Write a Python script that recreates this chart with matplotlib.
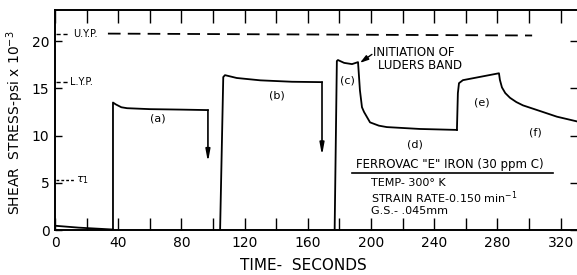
import matplotlib
matplotlib.use("Agg")
import matplotlib.pyplot as plt

# ---- data ----
# (a) loading segment
a_t = [36.7, 36.7, 38.5, 42.0, 45.6, 60.0, 80.0, 96.8]
a_s = [0.0, 13.5, 13.3, 13.0, 12.9, 12.8, 12.75, 12.7]
# (b)
b_t = [104.5, 106.5, 107.6, 115.0, 130.0, 150.0, 169.0]
b_s = [0.0, 16.2, 16.4, 16.1, 15.85, 15.7, 15.66]
# (c) and (d)
cd_t = [177.0, 178.4, 179.1, 183.0, 188.0, 191.8, 193.0, 194.3, 195.6, 199.4, 205.0, 210.0, 231.0, 254.4]
cd_s = [0.0, 17.9, 18.0, 17.7, 17.57, 17.78, 14.8, 13.0, 12.5, 11.4, 11.05, 10.9, 10.7, 10.6]
# (e) and (f)
ef_t = [254.4, 255.0, 255.7, 258.2, 281.0, 281.6, 282.9, 285.0, 288.0, 292.0, 296.2, 307.0, 317.7, 330.4]
ef_s = [10.6, 14.5, 15.55, 15.87, 16.6, 15.9, 15.1, 14.5, 14.0, 13.55, 13.2, 12.6, 12.0, 11.5]
# initial baseline drift
base_t = [0.0, 15.0, 36.7]
base_s = [0.45, 0.25, 0.05]
# unloading arrows (time, from stress, to stress)
arrow_t = [96.8, 169.0]
arrow_from = [12.7, 15.66]
arrow_to = [7.2, 7.9]
# reference levels
uyp_t = [33.5, 302.0]
uyp_s = [20.8, 20.6]
lyp_level = 15.66
tau1_level = 5.3

seg_labels = ["(a)", "(b)", "(c)", "(d)", "(e)", "(f)"]
seg_lab_t = [65.0, 140.5, 185.4, 227.8, 270.0, 303.8]
seg_lab_s = [11.85, 14.2, 15.8, 9.1, 13.5, 10.3]

x_major = list(range(0, 321, 40))
x_minor = list(range(20, 321, 40))
y_major = [0, 5, 10, 15, 20]

fig = plt.figure(figsize=(5.77, 2.75), dpi=100)
ax = fig.add_axes([55/577, 1-230/275, (577-55)/577, 220/275])
ax.set_xlim(0, 330.4)
ax.set_ylim(0, 23.3)

lw = 1.3
for t, s in [(a_t, a_s), (b_t, b_s), (cd_t, cd_s), (ef_t, ef_s), (base_t, base_s)]:
    ax.plot(t, s, color="k", lw=lw, solid_joinstyle="round")

for t, s0, s1 in zip(arrow_t, arrow_from, arrow_to):
    ax.annotate("", xy=(t, s1), xytext=(t, s0),
                arrowprops=dict(arrowstyle="-|>,head_length=0.7,head_width=0.13",
                                lw=1.2, color="k", shrinkA=0, shrinkB=0))

# U.Y.P. dashed line
ax.plot(uyp_t, uyp_s, color="k", lw=1.3, dashes=(7, 4))
ax.plot([0.5, 9], [uyp_s[0], uyp_s[0]], color="k", lw=1.0, dashes=(3, 2))
ax.text(11.4, uyp_s[0], "U.Y.P.", fontsize=7, va="center", ha="left")
ax.plot([0.5, 8], [lyp_level, lyp_level], color="k", lw=1.0, dashes=(3, 2))
ax.text(9.5, lyp_level, "L.Y.P.", fontsize=7, va="center", ha="left")
ax.plot([0.5, 12.5], [tau1_level, tau1_level], color="k", lw=1.0, dashes=(2, 1.5))
ax.text(13.5, tau1_level, r"$\tau_1$", fontsize=8, va="center", ha="left")

for lab, t, s in zip(seg_labels, seg_lab_t, seg_lab_s):
    ax.text(t, s, lab, fontsize=8, ha="center", va="center")

# Initiation of Luders band
ax.annotate("", xy=(193.0, 17.7), xytext=(200.6, 18.6),
            arrowprops=dict(arrowstyle="-|>,head_length=0.5,head_width=0.15",
                            lw=1.0, color="k", shrinkA=0, shrinkB=0))
ax.text(201.0, 18.85, "INITIATION OF", fontsize=8.5, ha="left", va="center")
ax.text(204.4, 17.45, "LUDERS BAND", fontsize=8.5, ha="left", va="center")

# material box
ax.text(190.5, 6.9, 'FERROVAC "E" IRON (30 ppm C)', fontsize=8.5, ha="left", va="center")
ax.plot([188, 315], [6.0, 6.0], color="k", lw=1.2)
ax.text(200, 5.0, "TEMP- 300° K", fontsize=8, ha="left", va="center")
ax.text(200, 3.45, "STRAIN RATE-0.150 min$^{-1}$", fontsize=8, ha="left", va="center")
ax.text(200, 2.05, "G.S.- .045mm", fontsize=8, ha="left", va="center")

# axes styling
for sp in ["left", "bottom", "top"]:
    ax.spines[sp].set_linewidth(1.4)
ax.spines["right"].set_visible(False)
ax.set_xticks(x_major)
ax.set_xticks(x_minor, minor=True)
ax.set_yticks(y_major)
ax.tick_params(axis="x", which="both", direction="in", length=9, width=1.0,
               top=True, labelsize=10, pad=4)
ax.tick_params(axis="y", which="both", direction="in", length=5, width=1.0,
               right=True, labelsize=10, pad=4)

fig.text(15/577, 1-123/275, "SHEAR  STRESS-psi x 10$^{-3}$", rotation=90,
         fontsize=10, ha="center", va="center")
fig.text(303/577, 1-265/275, "TIME-  SECONDS", fontsize=11, ha="center", va="center")

fig.savefig("out.png", dpi=100)
